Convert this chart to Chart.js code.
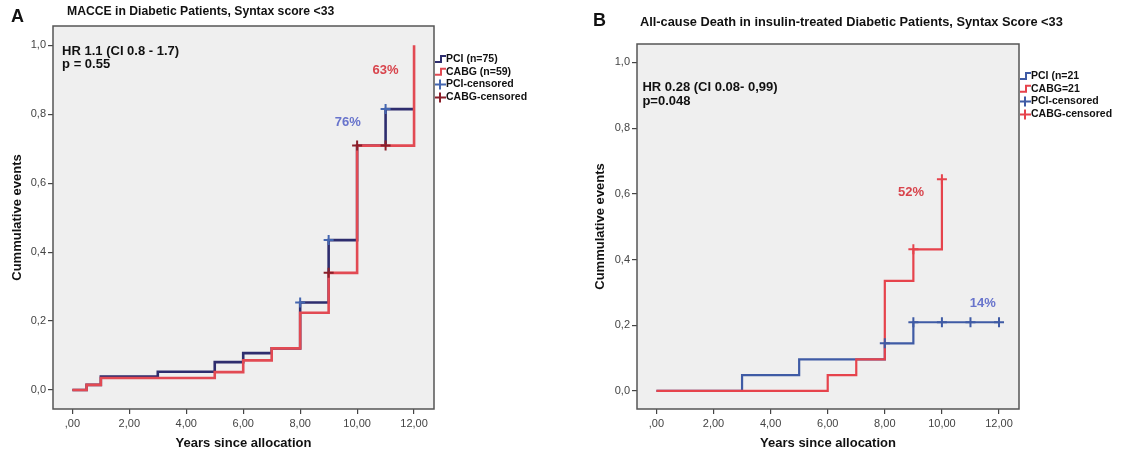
<!DOCTYPE html>
<html lang="en">
<head>
<meta charset="UTF-8">
<title>Cumulative events, Syntax score &lt;33</title>
<style>
  html, body { margin: 0; padding: 0; background: #fff; }
  #wrap { position: relative; width: 1124px; height: 455px; }
  canvas { position: absolute; top: 0; }
  #chartA { left: 0; }
  #chartB { left: 560px; }
</style>
</head>
<body>
<div id="wrap">
  <canvas id="chartA" width="560" height="455"></canvas>
  <canvas id="chartB" width="564" height="455"></canvas>
</div>

<script src="https://cdn.jsdelivr.net/npm/chart.js@4.4.2/dist/chart.umd.min.js"></script>
<script>
// axis ticks
const xTickValues = [0, 2, 4, 6, 8, 10, 12];
const xTickLabels = [',00', '2,00', '4,00', '6,00', '8,00', '10,00', '12,00'];
const yTickValues = [0, 0.2, 0.4, 0.6, 0.8, 1.0];
const yTickLabels = ['0,0', '0,2', '0,4', '0,6', '0,8', '1,0'];

// Panel A - MACCE in diabetic patients
const aPciYears = [0, 0.5, 1, 3, 5, 6, 7, 8, 9, 10, 11, 12];
const aPciEvents = [0, 0.015, 0.039, 0.053, 0.081, 0.107, 0.121, 0.254, 0.435, 0.709, 0.815, 0.815];
const aCabgYears = [0, 0.5, 1, 5, 6, 7, 8, 9, 10, 12];
const aCabgEvents = [0, 0.015, 0.035, 0.052, 0.086, 0.121, 0.224, 0.340, 0.709, 1.0];
const aPciCensYears = [8, 9, 11];
const aPciCensEvents = [0.254, 0.435, 0.815];
const aCabgCensYears = [9, 10, 11];
const aCabgCensEvents = [0.340, 0.709, 0.709];

// Panel B - all-cause death, insulin-treated
const bPciYears = [0, 3, 5, 8, 9, 12];
const bPciEvents = [0, 0.048, 0.096, 0.145, 0.209, 0.209];
const bCabgYears = [0, 6, 7, 8, 9, 10];
const bCabgEvents = [0, 0.048, 0.096, 0.335, 0.431, 0.644];
const bPciCensYears = [8, 9, 10, 11, 12];
const bPciCensEvents = [0.145, 0.209, 0.209, 0.209, 0.209];
const bCabgCensYears = [9, 10];
const bCabgCensEvents = [0.431, 0.644];

const FONT = '"Liberation Sans", Arial, sans-serif';
Chart.defaults.font.family = FONT;

function kmLine(label, xs, ys, color, width, order) {
  return {
    label, order, kind: 'step',
    data: xs.map((x, i) => ({ x, y: ys[i] })),
    showLine: true, stepped: 'before',
    borderColor: color, backgroundColor: color, borderWidth: width,
    pointRadius: 0, fill: false
  };
}

function censMarks(label, xs, ys, color, order) {
  return {
    label, order, kind: 'cross',
    data: xs.map((x, i) => ({ x, y: ys[i] })),
    showLine: false, pointStyle: 'cross',
    pointRadius: 5, pointBorderWidth: 2,
    borderColor: color, backgroundColor: color, pointBorderColor: color
  };
}

// plot box, titles, text notes and legend
const panelDeco = {
  id: 'panelDeco',
  beforeDraw(chart) {
    const { ctx, chartArea: a } = chart;
    ctx.save();
    ctx.fillStyle = '#efefef';
    ctx.fillRect(a.left, a.top, a.right - a.left, a.bottom - a.top);
    ctx.restore();
  },
  afterDraw(chart, args, o) {
    const { ctx, chartArea: a, scales } = chart;
    ctx.save();
    ctx.strokeStyle = '#555';
    ctx.lineWidth = 1.5;
    ctx.strokeRect(a.left, a.top, a.right - a.left, a.bottom - a.top);

    ctx.textBaseline = 'middle';
    ctx.textAlign = 'left';
    ctx.fillStyle = '#111';
    ctx.font = 'bold 18px ' + FONT;
    ctx.fillText(o.letter, o.letterX, o.letterY);
    ctx.font = 'bold ' + o.titleSize + 'px ' + FONT;
    ctx.fillText(o.title, o.titleX, o.titleY);

    o.notes.forEach(n => {
      ctx.font = 'bold ' + n.size + 'px ' + FONT;
      ctx.fillStyle = n.color;
      ctx.textAlign = n.align;
      ctx.fillText(n.text, scales.x.getPixelForValue(n.x), scales.y.getPixelForValue(n.y));
    });

    // legend
    const lx = a.right + 1;
    let ly = o.legendTop;
    ctx.textAlign = 'left';
    chart.data.datasets.forEach(ds => {
      ctx.strokeStyle = ds.borderColor;
      ctx.lineWidth = 2;
      ctx.beginPath();
      if (ds.kind === 'step') {
        ctx.moveTo(lx, ly + 3); ctx.lineTo(lx + 6, ly + 3);
        ctx.lineTo(lx + 6, ly - 3); ctx.lineTo(lx + 11, ly - 3);
      } else {
        ctx.moveTo(lx, ly); ctx.lineTo(lx + 11, ly);
        ctx.moveTo(lx + 5, ly - 5); ctx.lineTo(lx + 5, ly + 5);
      }
      ctx.stroke();
      ctx.fillStyle = '#111';
      ctx.font = 'bold 10.5px ' + FONT;
      ctx.fillText(ds.label, lx + 11, ly);
      ly += o.legendRow;
    });
    ctx.restore();
  }
};

function buildPanel(id, datasets, lay, deco) {
  return new Chart(document.getElementById(id), {
    type: 'scatter',
    data: { datasets },
    options: {
      responsive: false,
      animation: false,
      devicePixelRatio: 1,
      layout: { padding: { left: 0, right: lay.right, top: lay.top, bottom: 0 } },
      scales: {
        x: {
          type: 'linear', min: -0.68, max: 12.7,
          afterBuildTicks: s => { s.ticks = xTickValues.map(v => ({ value: v })); },
          afterFit: s => { s.height = 455 - lay.bottom; },
          ticks: {
            callback: v => xTickLabels[xTickValues.indexOf(v)],
            font: { size: 11 }, color: '#444', padding: 3,
            maxRotation: 0, autoSkip: false
          },
          grid: { display: true, drawOnChartArea: false, drawTicks: true, tickLength: 5, color: '#444', lineWidth: 1.2 },
          border: { display: false },
          title: { display: true, text: 'Years since allocation', color: '#111',
                   font: { size: 13, weight: 'bold' }, padding: { top: 0, bottom: 4 } }
        },
        y: {
          type: 'linear', min: -0.055, max: 1.056,
          afterBuildTicks: s => { s.ticks = yTickValues.map(v => ({ value: v })); },
          afterFit: s => { s.width = lay.left; },
          ticks: {
            callback: v => yTickLabels[yTickValues.findIndex(t => Math.abs(t - v) < 1e-6)],
            font: { size: 11 }, color: '#444', padding: 2, autoSkip: false
          },
          grid: { display: true, drawOnChartArea: false, drawTicks: true, tickLength: 5, color: '#444', lineWidth: 1.2 },
          border: { display: false },
          title: { display: true, text: 'Cummulative events', color: '#111',
                   font: { size: 13, weight: 'bold' }, padding: { top: lay.yTitlePad, bottom: 0 } }
        }
      },
      plugins: {
        legend: { display: false },
        tooltip: { enabled: false },
        panelDeco: deco
      }
    },
    plugins: [panelDeco]
  });
}

buildPanel('chartA', [
  kmLine('PCI (n=75)', aPciYears, aPciEvents, '#2e2d6e', 2.6, 3),
  kmLine('CABG (n=59)', aCabgYears, aCabgEvents, '#e24a53', 2.6, 2),
  censMarks('PCI-censored', aPciCensYears, aPciCensEvents, '#4466b0', 1),
  censMarks('CABG-censored', aCabgCensYears, aCabgCensEvents, '#8a1f2a', 0)
], { left: 53, right: 126, top: 26, bottom: 409, yTitlePad: 10 }, {
  letter: 'A', letterX: 11, letterY: 17,
  title: 'MACCE in Diabetic Patients, Syntax score <33', titleX: 67, titleY: 12, titleSize: 12.2,
  legendTop: 59, legendRow: 12.8,
  notes: [
    { text: 'HR 1.1 (CI 0.8 - 1.7)', x: -0.36, y: 0.983, size: 13, color: '#111', align: 'left' },
    { text: 'p = 0.55', x: -0.36, y: 0.945, size: 13, color: '#111', align: 'left' },
    { text: '63%', x: 11.0, y: 0.928, size: 13, color: '#d8444c', align: 'center' },
    { text: '76%', x: 9.67, y: 0.777, size: 13, color: '#6874cc', align: 'center' }
  ]
});

buildPanel('chartB', [
  kmLine('PCI (n=21', bPciYears, bPciEvents, '#3f5ba5', 2.2, 3),
  kmLine('CABG=21', bCabgYears, bCabgEvents, '#e6434c', 2.2, 2),
  censMarks('PCI-censored', bPciCensYears, bPciCensEvents, '#3f5ba5', 1),
  censMarks('CABG-censored', bCabgCensYears, bCabgCensEvents, '#e6434c', 0)
], { left: 77, right: 105, top: 44, bottom: 409, yTitlePad: 33 }, {
  letter: 'B', letterX: 33, letterY: 21,
  title: 'All-cause Death in insulin-treated Diabetic Patients, Syntax Score <33', titleX: 80, titleY: 22, titleSize: 12.8,
  legendTop: 76, legendRow: 12.8,
  notes: [
    { text: 'HR 0.28 (CI 0.08- 0,99)', x: -0.49, y: 0.924, size: 13, color: '#111', align: 'left' },
    { text: 'p=0.048', x: -0.49, y: 0.881, size: 13, color: '#111', align: 'left' },
    { text: '52%', x: 8.92, y: 0.604, size: 13, color: '#d8444c', align: 'center' },
    { text: '14%', x: 11.43, y: 0.265, size: 13, color: '#6874cc', align: 'center' }
  ]
});
</script>
</body>
</html>
